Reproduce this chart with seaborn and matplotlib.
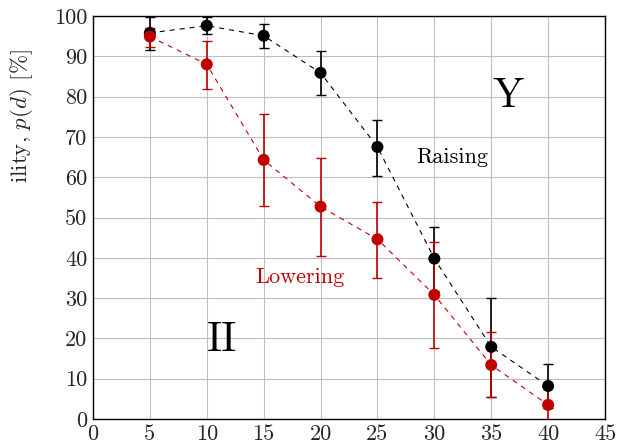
import matplotlib
matplotlib.use("Agg")
import matplotlib.pyplot as plt
import seaborn as sns
import pandas as pd

x = [5, 10, 15, 20, 25, 30, 35, 40]
raising = [95.8, 97.6, 95.1, 85.9, 67.5, 39.8, 17.9, 8.2]
raising_lo = [91.6, 95.5, 92.1, 80.3, 60.4, 31.8, 5.5, 2.7]
raising_hi = [99.8, 99.8, 98.0, 91.3, 74.2, 47.7, 30.1, 13.6]
lowering = [94.9, 88.0, 64.3, 52.7, 44.6, 30.8, 13.4, 3.5]
lowering_lo = [92.4, 82.0, 52.9, 40.5, 35.1, 17.7, 5.5, -0.5]
lowering_hi = [97.1, 93.9, 75.6, 64.7, 53.9, 44.0, 21.5, 7.9]
xticks = list(range(0, 50, 5))
yticks = list(range(0, 110, 10))

sns.set_style("white")
plt.rcParams["font.family"] = ["cmr10", "DejaVu Serif"]
plt.rcParams["mathtext.fontset"] = "cm"
plt.rcParams["axes.formatter.use_mathtext"] = True

BLACK = "#000000"
RED = "#C00000"

fig = plt.figure(figsize=(6.19, 4.48), dpi=100)
ax = fig.add_axes([0.1502, 0.0647, 0.8272, 0.8996])

df = pd.DataFrame({"x": x, "raising": raising, "lowering": lowering})

for col, lo, hi, color in [("raising", raising_lo, raising_hi, BLACK),
                           ("lowering", lowering_lo, lowering_hi, RED)]:
    vals = df[col].values
    yerr = [vals - pd.Series(lo).values, pd.Series(hi).values - vals]
    ax.errorbar(df["x"], vals, yerr=yerr, fmt="none", ecolor=color,
                elinewidth=1.2, capsize=3.6, capthick=1.0, zorder=3)
    sns.lineplot(data=df, x="x", y=col, ax=ax, color=color, lw=0.8,
                 dashes=False, zorder=4)
    ax.lines[-1].set_dashes((4.5, 4.5))
    sns.scatterplot(data=df, x="x", y=col, ax=ax, color=color, s=75,
                    edgecolor="none", zorder=5)

ax.set_xlim(0, 45)
ax.set_ylim(0, 100)
ax.set_xticks(xticks)
ax.set_yticks(yticks)
ax.set_xticklabels([str(t) for t in xticks])
ax.set_yticklabels([str(t) for t in yticks])
ax.tick_params(axis="both", direction="in", length=7, width=0.8,
               color="#555555", labelsize=16, pad=4)
ax.grid(True, color="#BFBFBF", lw=0.8)
ax.set_axisbelow(True)
for s in ax.spines.values():
    s.set_color("black")
    s.set_linewidth(1.0)

ax.set_xlabel("")
ax.set_ylabel("")
fig.text(0.034, 0.741, r"ility, $p(d)$ [%]", rotation=90, fontsize=16.5,
         ha="center", va="center")

ax.text(31.6, 65, "Raising", fontsize=16, color=BLACK, ha="center", va="center")
ax.text(18.2, 35.2, "Lowering", fontsize=16, color=RED, ha="center", va="center")
ax.text(36.5, 80, "Y", fontsize=30, color=BLACK, ha="center", va="center")
ax.text(11.3, 19.6, "II", fontsize=30, color=BLACK, ha="center", va="center")

fig.savefig("out.png", dpi=100)
